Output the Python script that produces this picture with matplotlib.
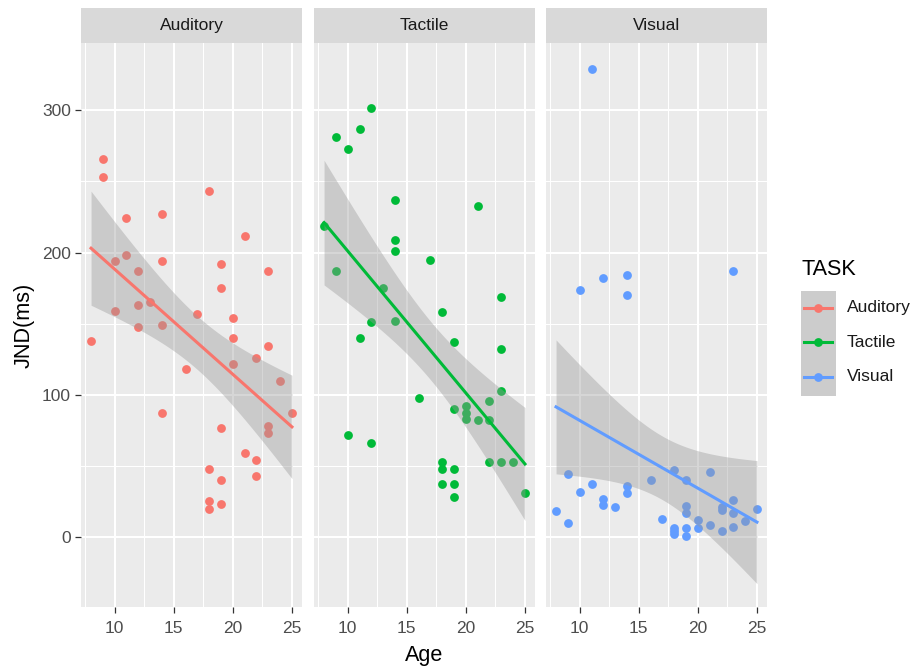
import numpy as np
import matplotlib
matplotlib.use("Agg")
import matplotlib.pyplot as plt
from matplotlib.patches import Rectangle

plt.rcParams['font.family'] = ['Liberation Sans', 'DejaVu Sans']

tasks = ["Auditory", "Tactile", "Visual"]
colors = ["#F8766D", "#00BA38", "#619CFF"]

# values
aud_age = [8, 9, 9, 10, 10, 11, 11, 12, 12, 12, 13, 14, 14, 14, 14, 16, 17, 18, 18, 18,
           18, 19, 19, 19, 19, 19, 20, 20, 20, 21, 21, 22, 22, 22, 23, 23, 23, 23, 24, 25]
aud_jnd = [138, 266, 253, 194, 159, 224, 198, 187, 163, 148, 165, 227, 194, 149, 87, 118, 157, 243, 48, 25,
           19.5, 192, 175, 77, 40, 23, 154, 140, 122, 212, 59, 126, 54, 43, 187, 134, 78, 73, 110, 87]

tac_age = [8, 9, 9, 10, 10, 11, 11, 12, 12, 12, 13, 14, 14, 14, 14, 16, 17, 18, 18, 18,
           18, 19, 19, 19, 19, 19, 20, 20, 20, 21, 21, 22, 22, 22, 23, 23, 23, 23, 24, 25]
tac_jnd = [219, 281, 187, 273, 72, 287, 140, 302, 151, 66, 175, 237, 209, 201, 152, 98, 195, 158, 53, 48,
           37, 137, 90, 48, 37, 28, 92, 87, 83, 233, 82, 96, 82, 53, 169, 132, 103, 53, 53, 31]

vis_age = [8, 9, 9, 10, 10, 11, 11, 12, 12, 12, 13, 14, 14, 14, 14, 16, 17, 18, 18, 18,
           18, 19, 19, 19, 19, 19, 20, 20, 21, 21, 22, 22, 22, 23, 23, 23, 23, 24, 25]
vis_jnd = [18, 44, 10, 174, 32, 329, 37.5, 182, 27, 22.5, 21, 184, 170, 36, 31, 40, 13, 47, 6.5, 4.4,
           2, 40, 21.6, 17, 6, 1, 12, 6.5, 46, 8.4, 21, 19, 4, 187, 26, 17, 7, 11, 19.5]

ages = [aud_age, tac_age, vis_age]
jnds = [aud_jnd, tac_jnd, vis_jnd]

x_major = [10, 15, 20, 25]
x_minor = [7.5, 12.5, 17.5, 22.5]
y_major = [0, 100, 200, 300]
y_minor = [50, 150, 250]

T975 = 2.025  # t quantile, ~38 df


def lm_band(x, y, n=80):
    x = np.asarray(x, float)
    y = np.asarray(y, float)
    b, a = np.polyfit(x, y, 1)
    xs = np.linspace(x.min(), x.max(), n)
    fit = a + b * xs
    resid = y - (a + b * x)
    s = np.sqrt(np.sum(resid ** 2) / (len(x) - 2))
    se = s * np.sqrt(1 / len(x) + (xs - x.mean()) ** 2 / np.sum((x - x.mean()) ** 2))
    return xs, fit, fit - T975 * se, fit + T975 * se


W, H = 917, 670
fig = plt.figure(figsize=(W / 100, H / 100), dpi=100)

lefts = [81, 314, 546]
pw = 221
ptop, pbot = 42.7, 607
stop = 8

for i, task in enumerate(tasks):
    ax = fig.add_axes([lefts[i] / W, 1 - pbot / H, pw / W, (pbot - ptop) / H])
    ax.set_facecolor("#EBEBEB")
    for sp in ax.spines.values():
        sp.set_visible(False)
    ax.set_xlim(7.15, 25.85)
    ax.set_ylim(-49.2, 347.6)
    ax.set_xticks(x_major)
    ax.set_xticks(x_minor, minor=True)
    ax.set_yticks(y_major)
    ax.set_yticks(y_minor, minor=True)
    ax.grid(which="major", color="white", lw=1.5)
    ax.grid(which="minor", color="white", lw=0.75)
    ax.set_axisbelow(True)
    ax.tick_params(which="minor", length=0)
    ax.tick_params(which="major", length=4.3, width=0.9, color="#333333",
                   labelsize=12.5, labelcolor="#4D4D4D", pad=3)
    ax.tick_params(axis="x", pad=6)
    if i > 0:
        ax.tick_params(axis="y", length=0, labelleft=False)

    ax.scatter(ages[i], jnds[i], s=40, color=colors[i], lw=0, zorder=2)
    xs, fit, lo, hi = lm_band(ages[i], jnds[i])
    ax.fill_between(xs, lo, hi, color="#999999", alpha=0.4, lw=0, zorder=3)
    ax.plot(xs, fit, color=colors[i], lw=2.2, zorder=4)

    sax = fig.add_axes([lefts[i] / W, 1 - ptop / H, pw / W, (ptop - stop) / H])
    sax.set_facecolor("#D9D9D9")
    sax.set_xticks([])
    sax.set_yticks([])
    for sp in sax.spines.values():
        sp.set_visible(False)
    sax.text(0.5, 0.5, task, ha="center", va="center", fontsize=12.5,
             color="#1A1A1A", transform=sax.transAxes)

fig.text(424 / W, 1 - 656 / H, "Age", ha="center", va="center", fontsize=15.6)
fig.text(24 / W, 1 - 325 / H, "JND(ms)", ha="center", va="center",
         rotation=90, fontsize=15.6)

# legend
lax = fig.add_axes([790 / W, 1 - 410 / H, 127 / W, 170 / H])
lax.set_xlim(790, 917)
lax.set_ylim(410, 240)
lax.axis("off")
lax.text(801, 270, "TASK", ha="left", va="center", fontsize=15.6)
lax.add_patch(Rectangle((801, 290.7), 34.7, 105, facecolor="#CCCCCC", lw=0))
for i, task in enumerate(tasks):
    yy = 308 + i * 34.5
    lax.plot([804, 832], [yy, yy], color=colors[i], lw=2.2)
    lax.scatter([818], [yy], s=40, color=colors[i], lw=0, zorder=3)
    lax.text(847, yy, task, ha="left", va="center", fontsize=12.5, color="#1A1A1A")

fig.savefig("out.png", dpi=100)
